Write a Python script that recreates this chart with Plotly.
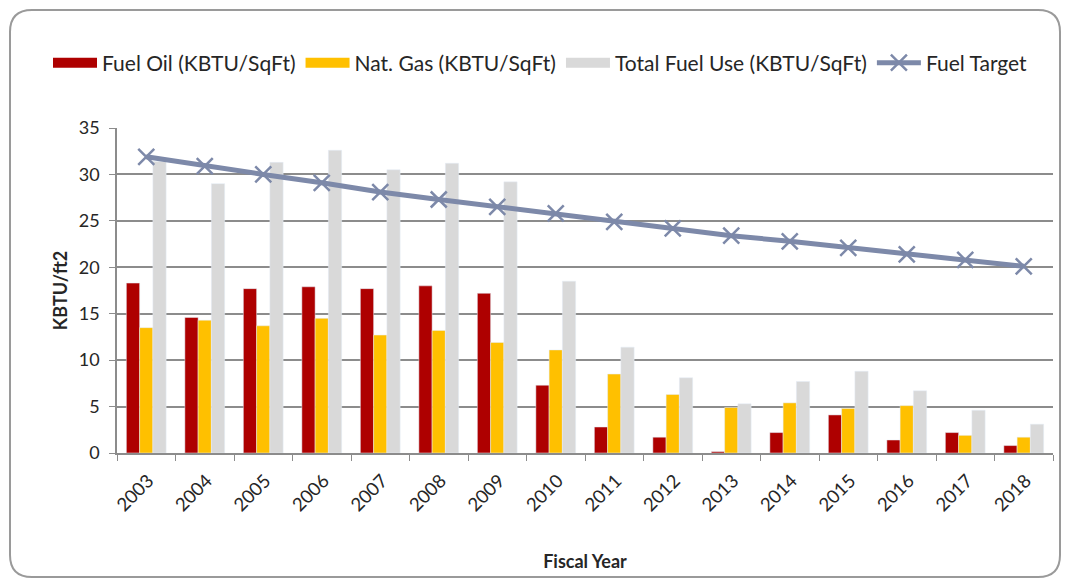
import plotly.graph_objects as go

years = [str(y) for y in range(2003, 2019)]
fuel_oil = [18.3, 14.6, 17.7, 17.9, 17.7, 18.0, 17.2, 7.3, 2.8, 1.7, 0.15, 2.2, 4.1, 1.4, 2.2, 0.8]
nat_gas = [13.5, 14.3, 13.7, 14.5, 12.7, 13.2, 11.9, 11.1, 8.5, 6.3, 4.9, 5.4, 4.8, 5.1, 1.9, 1.7]
total_fuel = [31.4, 29.0, 31.3, 32.6, 30.5, 31.2, 29.2, 18.5, 11.4, 8.1, 5.3, 7.7, 8.8, 6.7, 4.6, 3.1]
fuel_target = [31.9, 30.9, 30.0, 29.1, 28.1, 27.3, 26.5, 25.8, 24.9, 24.2, 23.4, 22.8, 22.1, 21.4, 20.8, 20.1]

# the page body adds an 8px offset, so the figure is sized to fit what is left
OFF = 8
W, H = 1073 - OFF, 580 - OFF
L, R, T, B = 117 - OFF, 1073 - 1053, 128 - OFF, 580 - 453
pw, ph = W - L - R, H - T - B

def px_x(x):
    return (x - OFF - L) / pw

def px_y(y):
    return (H - B - (y - OFF)) / ph

font = "Lato, 'Open Sans', sans-serif"
grid = "#8c8c8c"
series = [
    ("Fuel Oil (KBTU/SqFt)", fuel_oil, "#AE0000"),
    ("Nat. Gas (KBTU/SqFt)", nat_gas, "#FFC000"),
    ("Total Fuel Use (KBTU/SqFt)", total_fuel, "#D9D9D9"),
]

fig = go.Figure()
for name, vals, col in series:
    fig.add_bar(x=years, y=vals, name=name, marker_color=col, showlegend=False)
    # wide swatch for the legend, like the original
    fig.add_scatter(x=[None], y=[None], name=name, mode="lines",
                    line=dict(color=col, width=11))
fig.add_scatter(x=years, y=fuel_target, name="Fuel Target", mode="lines+markers",
                line=dict(color="#7D89A9", width=5),
                marker=dict(symbol="x-thin", size=16, line=dict(color="#7D89A9", width=2.5)))

# rounded outer frame
x0, x1, y0, y1, r = 10, 1060, 10, 577, 22
path = (f"M {px_x(x0 + r)} {px_y(y0)} L {px_x(x1 - r)} {px_y(y0)} "
        f"Q {px_x(x1)} {px_y(y0)} {px_x(x1)} {px_y(y0 + r)} "
        f"L {px_x(x1)} {px_y(y1 - r)} Q {px_x(x1)} {px_y(y1)} {px_x(x1 - r)} {px_y(y1)} "
        f"L {px_x(x0 + r)} {px_y(y1)} Q {px_x(x0)} {px_y(y1)} {px_x(x0)} {px_y(y1 - r)} "
        f"L {px_x(x0)} {px_y(y0 + r)} Q {px_x(x0)} {px_y(y0)} {px_x(x0 + r)} {px_y(y0)} Z")
fig.add_shape(type="path", path=path, xref="paper", yref="paper",
              line=dict(color="#9a9a9a", width=2), layer="below")

fig.update_layout(
    width=W, height=H,
    margin=dict(l=L, r=R, t=T, b=B, autoexpand=False),
    paper_bgcolor="white", plot_bgcolor="white",
    font=dict(family=font, size=18, color="#262626"),
    barmode="group", bargap=0.32, bargroupgap=0,
    showlegend=True,
    legend=dict(orientation="h", x=px_x(48), y=px_y(63), xanchor="left", yanchor="middle",
                font=dict(size=21, color="#262626"), itemwidth=44, tracegroupgap=0,
                traceorder="normal"),
)
fig.update_xaxes(type="category", range=[-0.5, len(years) - 0.5], tickson="boundaries",
                 ticks="outside", ticklen=6,
                 tickcolor=grid, showline=True, linecolor=grid, linewidth=1.5,
                 tickangle=-45, tickfont=dict(size=18.5), automargin=False,
                 ticklabelshift=2, ticklabelstandoff=8,
                 title=dict(text="<b>Fiscal Year</b>", font=dict(size=18), standoff=41))
fig.update_yaxes(range=[0, 35], dtick=5, showgrid=True, gridcolor=grid, gridwidth=1.5,
                 showline=True, linecolor=grid, linewidth=1.5, ticks="outside", ticklen=6,
                 tickcolor=grid, tickfont=dict(size=18), zeroline=False, automargin=False,
                 ticklabelstandoff=6,
                 title=dict(text="<b>KBTU/ft2</b>", font=dict(size=18), standoff=6))

fig.write_html("out.html")
